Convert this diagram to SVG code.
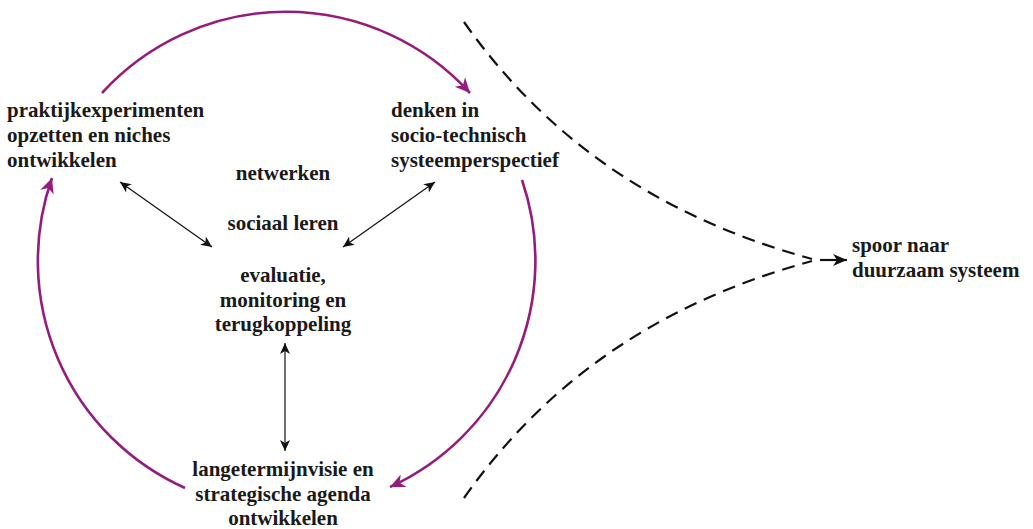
<svg xmlns="http://www.w3.org/2000/svg" width="1033" height="529" viewBox="0 0 1033 529">
<style>
  text { font-family: "Liberation Serif", "Times New Roman", serif; font-weight: bold; font-size: 21px; fill: #1a1a1a; }
  .c { text-anchor: middle; }
  .loop { fill: none; stroke: #951c7a; stroke-width: 2.6; marker-end: url(#pa); }
  .link { fill: none; stroke: #111; stroke-width: 1.2; marker-start: url(#ba); marker-end: url(#ba); }
  .path { fill: none; stroke: #111; stroke-width: 2.2; stroke-dasharray: 13 8; }
</style>
<defs>
  <marker id="pa" viewBox="-16 -8 18 16" refX="0" refY="0" markerWidth="18" markerHeight="16" markerUnits="userSpaceOnUse" orient="auto">
    <path d="M0,0 L-15,-7 L-10.5,0 L-15,7 Z" fill="#951c7a"/>
  </marker>
  <marker id="ba" viewBox="-13 -6 14 12" refX="0" refY="0" markerWidth="14" markerHeight="12" markerUnits="userSpaceOnUse" orient="auto-start-reverse">
    <path d="M0,0 L-11,-5 L-8,0 L-11,5 Z" fill="#111"/>
  </marker>
  <marker id="da" viewBox="-15 -7 16 14" refX="0" refY="0" markerWidth="16" markerHeight="14" markerUnits="userSpaceOnUse" orient="auto">
    <path d="M0,0 L-14,-6 L-10,0 L-14,6 Z" fill="#111"/>
  </marker>
</defs>

<g id="connectors">
  <path class="loop" d="M102,93 A249,249 0 0 1 470,93"/>
  <path class="loop" d="M522,180 A249,249 0 0 1 390,487"/>
  <path class="loop" d="M185,488 A249,249 0 0 1 52,178"/>
  <line class="link" x1="120" y1="182" x2="212" y2="247"/>
  <line class="link" x1="435" y1="182" x2="343" y2="247"/>
  <line class="link" x1="285" y1="343" x2="285" y2="451"/>
  <path class="path" d="M464,22 C540,130 650,215 812,259"/>
  <path class="path" d="M464,498 C540,390 650,305 812,261"/>
  <line x1="820" y1="260" x2="847" y2="260" stroke="#111" stroke-width="2.2" marker-end="url(#da)"/>
</g>

<g id="node-praktijk">
  <text x="7" y="117">praktijkexperimenten</text>
  <text x="7" y="142">opzetten en niches</text>
  <text x="7" y="167">ontwikkelen</text>
</g>
<g id="node-denken">
  <text x="391" y="117">denken in</text>
  <text x="391" y="142">socio-technisch</text>
  <text x="391" y="167">systeemperspectief</text>
</g>
<g id="node-netwerken">
  <text class="c" x="283" y="180">netwerken</text>
</g>
<g id="node-sociaal">
  <text class="c" x="283" y="230">sociaal leren</text>
</g>
<g id="node-evaluatie">
  <text class="c" x="283" y="282">evaluatie,</text>
  <text class="c" x="283" y="306.5">monitoring en</text>
  <text class="c" x="283" y="331">terugkoppeling</text>
</g>
<g id="node-langetermijn">
  <text class="c" x="283" y="476">langetermijnvisie en</text>
  <text class="c" x="283" y="500.5">strategische agenda</text>
  <text class="c" x="283" y="524.5">ontwikkelen</text>
</g>
<g id="node-spoor">
  <text x="852" y="252">spoor naar</text>
  <text x="852" y="277">duurzaam systeem</text>
</g>
</svg>
